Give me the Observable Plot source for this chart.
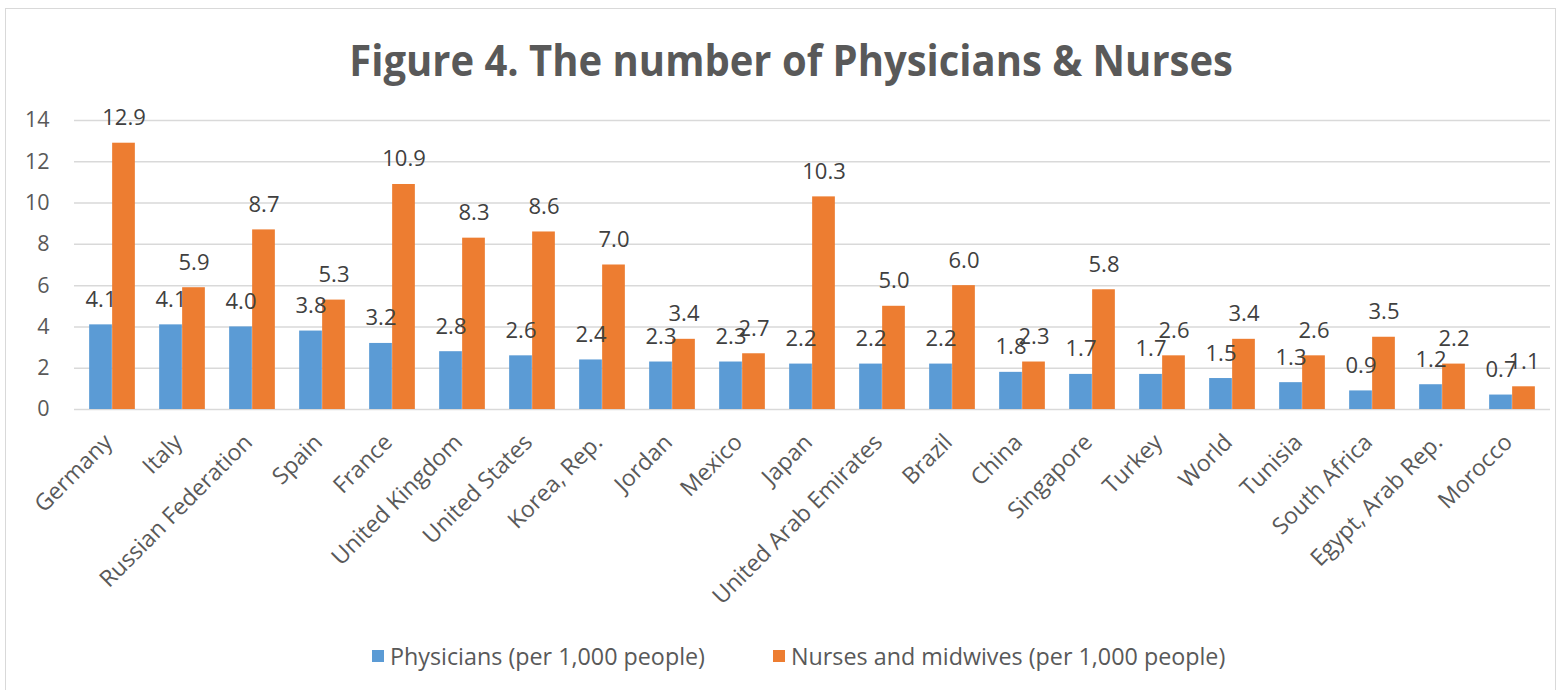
<!DOCTYPE html>
<html>
<head>
<meta charset="utf-8">
<script src="https://cdn.jsdelivr.net/npm/d3@7"></script>
<script src="https://cdn.jsdelivr.net/npm/@observablehq/plot@0.6"></script>
<style>
  html, body { margin: 0; padding: 0; background: #fff; }
  body { width: 1564px; height: 690px; position: relative; overflow: hidden; font-family: "Open Sans", sans-serif; }
  #frame { position: absolute; left: 5px; top: 8px; width: 1551px; height: 720px; border: 1px solid #d9d9d9; box-sizing: border-box; }
  #title { position: absolute; left: 0; top: 32px; width: 1582px; text-align: center; font-weight: 700; font-size: 43px; color: #595959; line-height: 56px; white-space: nowrap; }
  #title span { display: inline-block; transform: scaleX(0.93); transform-origin: center; }
  #chart { position: absolute; left: 0; top: 100px; }
  #legend { position: absolute; left: 0; top: 640px; width: 1564px; height: 32px; }
  .item { position: absolute; top: 0; display: flex; align-items: center; height: 32px; font-size: 23.3px; color: #595959; white-space: nowrap; }
  .swatch { width: 12px; height: 12px; margin-right: 6px; }
</style>
</head>
<body>
<div id="frame"></div>
<div id="title"><span>Figure 4. The number of Physicians &amp; Nurses</span></div>
<div id="chart"></div>
<div id="legend"></div>
<script>
const countries = [
  "Germany", "Italy", "Russian Federation", "Spain", "France", "United Kingdom",
  "United States", "Korea, Rep.", "Jordan", "Mexico", "Japan",
  "United Arab Emirates", "Brazil", "China", "Singapore", "Turkey", "World",
  "Tunisia", "South Africa", "Egypt, Arab Rep.", "Morocco"
];
const physicians = [4.1, 4.1, 4.0, 3.8, 3.2, 2.8, 2.6, 2.4, 2.3, 2.3, 2.2, 2.2, 2.2, 1.8, 1.7, 1.7, 1.5, 1.3, 0.9, 1.2, 0.7];
const nurses = [12.9, 5.9, 8.7, 5.3, 10.9, 8.3, 8.6, 7.0, 3.4, 2.7, 10.3, 5.0, 6.0, 2.3, 5.8, 2.6, 3.4, 2.6, 3.5, 2.2, 1.1];
const seriesNames = ["Physicians (per 1,000 people)", "Nurses and midwives (per 1,000 people)"];
const seriesColors = ["#5B9BD5", "#ED7D31"];
const yTicks = [0, 2, 4, 6, 8, 10, 12, 14];

const physRows = countries.map((country, i) => ({country, value: physicians[i]}));
const nurseRows = countries.map((country, i) => ({country, value: nurses[i]}));

const width = 1564, marginLeft = 74, marginRight = 14;
const step = (width - marginLeft - marginRight) / countries.length;
const barW = 23;
const fmt = d => d.value.toFixed(1);

const chart = Plot.plot({
  width,
  height: 530,
  marginTop: 20,
  marginBottom: 221,
  marginLeft,
  marginRight,
  style: {fontFamily: "'Open Sans', sans-serif", color: "#595959", background: "transparent"},
  x: {domain: countries, padding: 0, label: null},
  y: {domain: [0, 14], label: null},
  marks: [
    Plot.gridY(yTicks, {stroke: "#d9d9d9", strokeOpacity: 1, strokeWidth: 1.5}),
    Plot.barY(physRows, {x: "country", y: "value", fill: seriesColors[0], insetLeft: step / 2 - barW, insetRight: step / 2}),
    Plot.barY(nurseRows, {x: "country", y: "value", fill: seriesColors[1], insetLeft: step / 2, insetRight: step / 2 - barW}),
    Plot.text(physRows, {x: "country", y: "value", text: fmt, dx: -barW / 2, dy: -18, lineAnchor: "bottom", fontSize: 22, fill: "#404040"}),
    Plot.text(nurseRows, {x: "country", y: "value", text: fmt, dx: barW / 2, dy: -18, lineAnchor: "bottom", fontSize: 22, fill: "#404040"}),
    Plot.axisY(yTicks, {tickSize: 0, tickPadding: 25, fontSize: 21.5, label: null}),
    Plot.axisX({tickRotate: -45, tickSize: 0, tickPadding: 29, dx: -4, fontSize: 23, label: null})
  ]
});
document.getElementById("chart").appendChild(chart);

// legend below the plot
const legend = document.getElementById("legend");
const legendLeft = [372, 773];
seriesNames.forEach((name, i) => {
  const item = document.createElement("div");
  item.className = "item";
  item.style.left = legendLeft[i] + "px";
  const sw = document.createElement("span");
  sw.className = "swatch";
  sw.style.background = seriesColors[i];
  item.appendChild(sw);
  item.appendChild(document.createTextNode(name));
  legend.appendChild(item);
});
</script>
</body>
</html>
